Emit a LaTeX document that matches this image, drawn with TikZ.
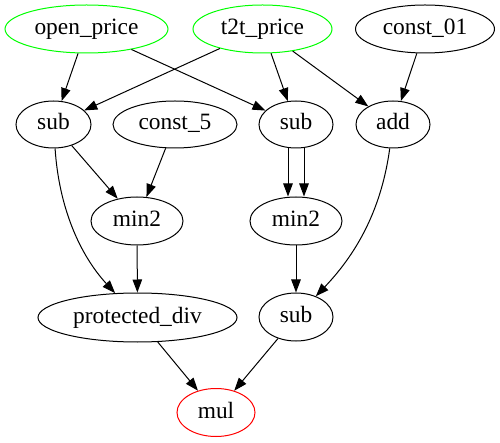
\documentclass[tikz,border=0pt]{standalone}
\usepackage{fontspec}
\setmainfont{Liberation Serif}
\newfontfamily\gvfont{Liberation Serif}
\usetikzlibrary{arrows.meta,shapes.geometric}
\begin{document}
\begin{tikzpicture}[x=1pt,y=-1pt,
  gnode/.style={ellipse,draw,line width=1pt,inner sep=0pt,font=\gvfont\fontsize{23.4}{28}\selectfont,text height=14pt,text depth=3pt},
  edge/.style={line width=1pt,-{Triangle[length=13pt,width=9.5pt]}},
  greennode/.style={gnode,draw={rgb,255:red,0;green,255;blue,0}},
  rednode/.style={gnode,draw={rgb,255:red,255;green,0;blue,0}}]
\useasboundingbox (0,0) rectangle (500,443);
\node[greennode,minimum width=163pt,minimum height=48pt] (open) at (86.5,29) {open\_price};
\node[greennode,minimum width=139pt,minimum height=48pt] (t2t) at (262.5,29) {t2t\_price};
\node[gnode,minimum width=139pt,minimum height=48pt] (c01) at (425,29) {const\_01};
\node[gnode,minimum width=75pt,minimum height=47pt] (subL) at (53.5,124.5) {sub};
\node[gnode,minimum width=124pt,minimum height=47pt] (c5) at (175,124.5) {const\_5};
\node[gnode,minimum width=74pt,minimum height=47pt] (subM) at (296,124.5) {sub};
\node[gnode,minimum width=74pt,minimum height=47pt] (add) at (393,124.5) {add};
\node[gnode,minimum width=92pt,minimum height=48pt] (minL) at (137,221) {min2};
\node[gnode,minimum width=92pt,minimum height=48pt] (minR) at (296,221) {min2};
\node[gnode,minimum width=199pt,minimum height=49pt] (pdiv) at (137.5,317.5) {protected\_div};
\node[gnode,minimum width=74pt,minimum height=48pt] (subB) at (296,317) {sub};
\node[rednode,minimum width=78pt,minimum height=48pt] (mul) at (216,412.5) {mul};
\draw[edge] (open) -- (subL);
\draw[edge] (open) -- (subM);
\draw[edge] (t2t) -- (subL);
\draw[edge] (t2t) -- (subM);
\draw[edge] (t2t) -- (add);
\draw[edge] (c01) -- (add);
\draw[edge] (subL) -- (minL);
\draw[edge] (subL) .. controls (59,208) and (80,255) .. (pdiv);
\draw[edge] (c5) -- (minL);
\draw[edge] ([xshift=-8pt]subM.south) -- ([xshift=-8pt]minR.north);
\draw[edge] ([xshift=8pt]subM.south) -- ([xshift=8pt]minR.north);
\draw[edge] (minL) -- (pdiv);
\draw[edge] (minR) -- (subB);
\draw[edge] (add) .. controls (382,205) and (360,250) .. (subB);
\draw[edge] (pdiv) -- (mul);
\draw[edge] (subB) -- (mul);
\end{tikzpicture}
\end{document}
